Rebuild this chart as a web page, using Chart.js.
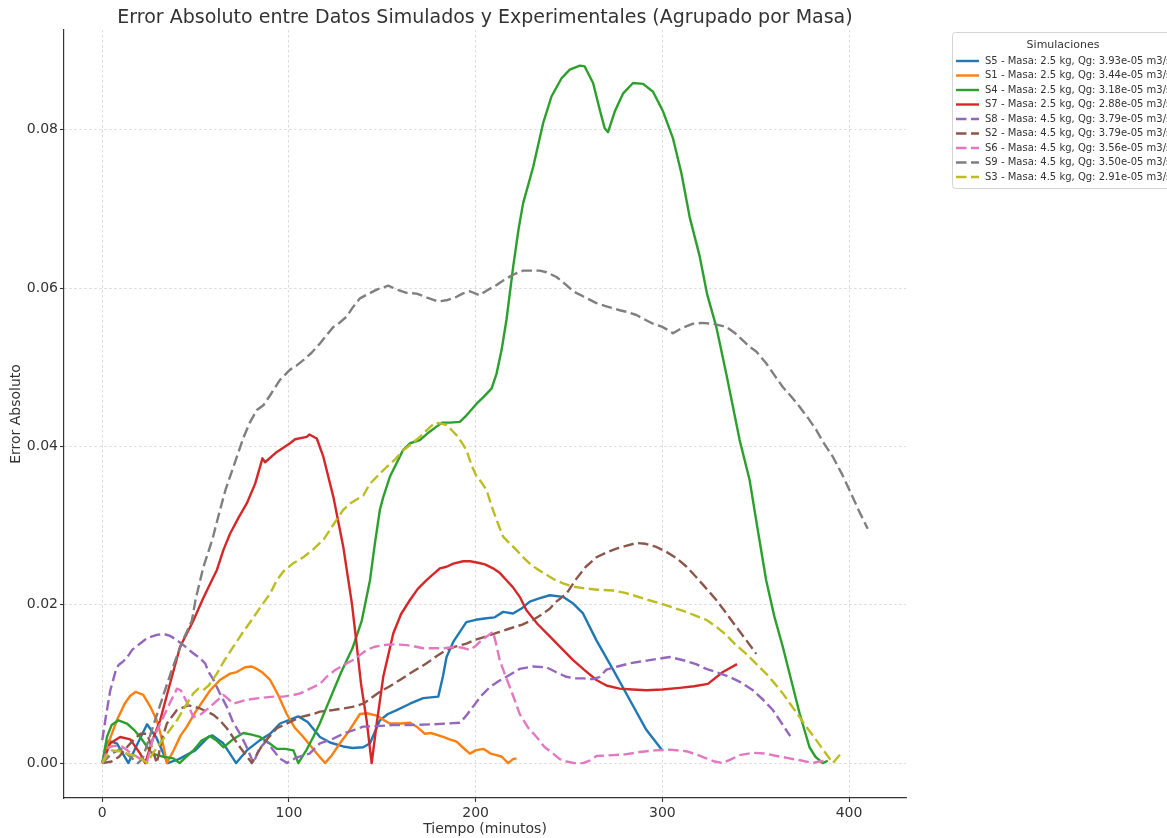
<!DOCTYPE html>
<html>
<head>
<meta charset="utf-8">
<script src="https://cdn.jsdelivr.net/npm/chart.js@4.4.1/dist/chart.umd.min.js"></script>
<style>
  html, body { margin: 0; padding: 0; background: #ffffff; }
  #wrap { width: 1167px; height: 838px; }
</style>
</head>
<body>
<div id="wrap"><canvas id="chart" width="1167" height="838"></canvas></div>
<script>
// Absolute error between simulated and experimental data, grouped by mass.
// Each series: [time in minutes, absolute error]
const s5Points = [[0,0],[3.4,0.0028],[7.8,0.0025],[14,0],[19,0.0025],[24,0.0049],[29,0.0032],[35,0],[41,0.0005],[49.8,0.0016],[56.9,0.0033],[59,0.0035],[64.8,0.0025],[71.7,0],[77.4,0.0016],[84.5,0.0029],[89.9,0.0037],[95.2,0.005],[105,0.0059],[110,0.0052],[116.6,0.0033],[122,0.0026],[129,0.0021],[134,0.0019],[139.8,0.002],[143.4,0.0025],[148.7,0.0054],[153,0.0062],[157.7,0.0067],[164.8,0.0075],[171.9,0.0082],[180,0.0084],[182.5,0.011],[184.4,0.0134],[188,0.0153],[195,0.0178],[200,0.0181],[205.8,0.0183],[210,0.0184],[214.7,0.0191],[220,0.0189],[225,0.0196],[229,0.0204],[234,0.0208],[239.7,0.0212],[246.8,0.021],[252,0.0202],[257.5,0.0189],[264.7,0.0155],[273.6,0.0118],[282.5,0.008],[291.4,0.0042],[300,0.0016]];

const s1Points = [[0,0],[4,0.003],[7.8,0.0054],[12,0.0075],[15,0.0085],[18,0.009],[22,0.0086],[26,0.007],[29.2,0.0054],[32,0.003],[34.6,0],[38,0.0015],[42,0.0035],[45.3,0.0046],[50,0.0065],[57.8,0.0092],[63,0.0105],[68.5,0.0113],[72,0.0115],[76.5,0.0121],[80,0.0122],[82.8,0.0119],[86,0.0114],[89.9,0.0105],[94,0.0087],[98.8,0.0062],[103,0.0045],[107.7,0.0033],[114.9,0.0012],[119.3,0],[123,0.001],[127.3,0.0025],[132,0.004],[138,0.0062],[141.6,0.0063],[147,0.006],[151,0.0054],[154,0.005],[160,0.005],[164.8,0.0051],[168.4,0.0046],[172.8,0.0037],[176,0.0038],[182.6,0.0033],[186,0.003],[189.8,0.0027],[193,0.002],[196.9,0.0012],[200,0.0016],[204,0.0018],[208,0.0012],[211.2,0.001],[214,0.0008],[217.4,0],[220,0.0005],[221.9,0.0006]];

const s4Points = [[0,0],[2.5,0.0033],[5,0.0048],[8.7,0.0054],[13.2,0.005],[17,0.0042],[20.3,0.0033],[26.6,0.0012],[32.8,0.0008],[38.1,0.0006],[41.4,0],[45,0.0008],[48.8,0.0016],[53,0.0028],[57.8,0.0034],[61,0.0029],[64.9,0.002],[70,0.003],[75.6,0.0038],[80,0.0036],[84.5,0.0033],[89,0.0026],[93.5,0.0018],[98,0.0018],[102.4,0.0016],[105,0],[109,0.0015],[113,0.0033],[116.5,0.005],[120.2,0.0071],[128,0.0115],[134,0.0145],[139,0.018],[143.4,0.0231],[146,0.0277],[148.7,0.032],[150.5,0.0336],[154.1,0.0362],[157.7,0.0379],[161,0.0395],[164.8,0.0404],[170.1,0.0408],[175,0.0418],[179,0.0425],[182,0.043],[186.2,0.043],[191.5,0.0431],[195,0.0439],[200.5,0.0454],[204,0.0462],[208.5,0.0473],[211.2,0.0492],[213.9,0.0522],[216.5,0.056],[220.1,0.0627],[223,0.0675],[225.4,0.0707],[230.8,0.0753],[236.1,0.0808],[240.6,0.0842],[246,0.0865],[250.4,0.0876],[255.8,0.0881],[258.4,0.088],[262.9,0.0859],[266.5,0.0825],[269.1,0.0802],[270.9,0.0797],[274.5,0.0823],[279,0.0846],[284.3,0.0859],[289.7,0.0858],[295,0.0848],[300.4,0.0823],[305.7,0.0789],[310.2,0.0745],[314.6,0.069],[320,0.064],[324,0.0592],[328.9,0.0551],[334.2,0.0492],[341.4,0.0408],[346.7,0.0358],[351,0.0296],[355.6,0.0231],[360,0.0185],[364.5,0.0147],[369,0.0105],[373.5,0.0063],[378.8,0.002],[382,0.0008],[385.9,0],[388.6,0.0003]];

const s7Points = [[0,0],[4.3,0.0025],[9.6,0.0033],[15,0.003],[20.3,0.0012],[23,0],[27,0.003],[31,0.0054],[36,0.0098],[41.7,0.0147],[48.8,0.018],[54,0.0208],[58.7,0.0231],[61.4,0.0244],[65,0.027],[68.5,0.029],[73,0.031],[77.4,0.0328],[81.9,0.0353],[85.8,0.0385],[87.2,0.038],[93.5,0.0393],[100.6,0.0404],[103.3,0.0409],[109.5,0.0412],[110.9,0.0415],[114.9,0.041],[118.4,0.0387],[123.8,0.0336],[129.1,0.0273],[133.8,0.02],[136,0.0155],[138.6,0.01],[141.6,0.0054],[144.3,0],[147,0.005],[150.5,0.0109],[155.9,0.0164],[160,0.0188],[164.8,0.0206],[169,0.022],[173.7,0.0231],[180.8,0.0246],[184.4,0.0248],[188,0.0252],[193.3,0.0255],[197,0.0255],[201.3,0.0253],[205,0.0251],[209.3,0.0246],[213,0.024],[216.5,0.0231],[220,0.0222],[223.6,0.021],[227.2,0.0193],[233,0.0176],[239.7,0.016],[246,0.0145],[252.2,0.013],[258,0.0118],[264.7,0.0105],[270,0.0098],[277.1,0.0094],[284,0.0093],[291.4,0.0092],[300,0.0093],[309.3,0.0095],[317,0.0097],[324.4,0.01],[332.4,0.0115],[340,0.0125]];

const s8Points = [[0,0.0029],[2,0.006],[4.3,0.0092],[7,0.0115],[8.7,0.0124],[11,0.0128],[13.2,0.0133],[16,0.0143],[20.3,0.0151],[24,0.0158],[29.2,0.0162],[33,0.0163],[36,0.0161],[39,0.0157],[44,0.0148],[48,0.014],[52,0.0133],[55.1,0.0126],[57,0.0115],[59.6,0.0105],[63,0.0088],[66.7,0.0071],[70,0.0052],[73.8,0.0037],[77,0.0022],[81,0],[84,0.0018],[88,0.0028],[91,0.0018],[95,0.0006],[99,0],[104,0.0007],[111,0.0012],[116.6,0.0025],[123,0.003],[129,0.0037],[135,0.0042],[139.8,0.0046],[148.7,0.0047],[156,0.0048],[164.8,0.0048],[177.3,0.0049],[185,0.005],[191.5,0.0051],[195,0.006],[198.5,0.0071],[203,0.0085],[207.6,0.0096],[212,0.0103],[216.5,0.0109],[223.6,0.0119],[230.8,0.0122],[237.9,0.0121],[243,0.0115],[248.6,0.0109],[253,0.0107],[257.5,0.0107],[262.9,0.0106],[266.5,0.0109],[270,0.0118],[276,0.0122],[282.5,0.0126],[293.2,0.013],[303.9,0.0134],[312.8,0.0129],[318,0.0125],[323.5,0.0119],[330,0.0114],[336,0.0109],[342,0.0102],[348.5,0.0092],[354,0.008],[359.2,0.0067],[364,0.005],[368.5,0.0034]];

const s2Points = [[0,0],[5,0.0002],[9,0.0008],[13.2,0.002],[17,0.003],[20.3,0.0037],[24,0.0037],[26.5,0.002],[29.2,0],[32,0.003],[34.6,0.005],[40,0.0067],[46.2,0.0073],[52.4,0.0069],[59.6,0.0061],[63,0.0054],[66.7,0.0044],[73.8,0.002],[80.1,0],[86.3,0.0025],[93.5,0.0044],[102.4,0.0054],[106,0.0058],[113,0.0062],[116.6,0.0065],[123.8,0.0067],[129,0.0069],[134,0.0071],[139.8,0.0075],[144,0.0082],[148.7,0.009],[154,0.0097],[159.4,0.0105],[166,0.0115],[173.7,0.0126],[179,0.0135],[184.4,0.0143],[189,0.0147],[195.1,0.0151],[200,0.0156],[205.8,0.016],[212,0.0165],[218.3,0.017],[225,0.0175],[230.8,0.0181],[235,0.0187],[239.7,0.0195],[243.2,0.0204],[248.6,0.0214],[254,0.0233],[259,0.0248],[264.7,0.026],[270,0.0266],[275.4,0.0271],[280,0.0274],[286,0.0278],[291,0.0277],[296.8,0.0273],[302,0.0267],[307.5,0.0259],[313,0.0248],[318.1,0.0235],[323,0.0222],[328.9,0.0206],[334,0.019],[339.6,0.0172],[345,0.0155],[350.3,0.0138]];

const s6Points = [[0,0],[3.4,0.002],[7,0.0022],[10.5,0.0021],[15.9,0.0012],[21.2,0.0004],[24,0.0002],[27,0.003],[31.9,0.0054],[36,0.0075],[40,0.0094],[42,0.0092],[45.3,0.0077],[48.8,0.0058],[53,0.0062],[57.8,0.0071],[61,0.0078],[64.9,0.0086],[67,0.0082],[70.2,0.0075],[73,0.0077],[77.4,0.008],[84,0.0082],[91.7,0.0084],[97,0.0084],[102.4,0.0086],[106,0.0088],[111.3,0.0094],[116.6,0.01],[120.2,0.0109],[125,0.0118],[130.9,0.0126],[135,0.0131],[141.6,0.0143],[146,0.0147],[150.5,0.0149],[156,0.015],[163,0.0149],[168,0.0147],[171.9,0.0145],[177,0.0145],[182.6,0.0145],[189.8,0.0147],[194,0.0145],[196.9,0.0143],[200,0.0148],[202.2,0.0153],[206,0.016],[209.3,0.0166],[211,0.015],[212.9,0.013],[215.5,0.0113],[218.3,0.0096],[221,0.0079],[223.6,0.0062],[228,0.0045],[232.6,0.0033],[237,0.002],[241.5,0.0012],[245,0.0005],[248.6,0.0002],[253,0],[257.5,0],[261,0.0003],[264.7,0.0009],[273.6,0.001],[280,0.0011],[287.9,0.0014],[296,0.0016],[303.9,0.0017],[312.8,0.0015],[318,0.0011],[323.5,0.0006],[328,0.0002],[332.4,0],[337,0.0005],[341.4,0.001],[348.5,0.0013],[355,0.0012],[361.2,0.0009],[368,0.0006],[375,0.0003],[380.6,0],[384,0.0002],[387.7,0.0003]];

const s9Points = [[0,0],[5,0.0012],[10,0.0018],[15,0.0008],[19,0],[21.5,0.0005],[26.6,0.0042],[31.9,0.008],[37.3,0.0118],[42.6,0.0152],[48,0.018],[50,0.0207],[54.2,0.0248],[58.9,0.0282],[63.1,0.032],[66,0.0345],[70.2,0.0374],[75.6,0.0411],[79,0.043],[82.8,0.0446],[86.3,0.0452],[90,0.0465],[95.2,0.0484],[100.6,0.0497],[104,0.0502],[107.7,0.0509],[112,0.0518],[116.6,0.053],[120,0.054],[123.8,0.0551],[127,0.0556],[130.9,0.0564],[134,0.0575],[138,0.0587],[142,0.0592],[147,0.0598],[153.2,0.0603],[158,0.0598],[163,0.0594],[168.4,0.0593],[174,0.0588],[180,0.0583],[185,0.0585],[189.8,0.0589],[193,0.0593],[196.9,0.0596],[202.2,0.0591],[206,0.0597],[211.2,0.0604],[215,0.061],[220.1,0.0617],[225.4,0.0622],[229,0.0622],[234.3,0.0622],[238,0.062],[243.3,0.0614],[248,0.0605],[252.2,0.0596],[258,0.0589],[264.7,0.0581],[270,0.0577],[277.1,0.0572],[281,0.057],[286.1,0.0566],[290,0.0561],[295,0.0555],[300,0.0551],[305.7,0.0543],[310,0.0549],[316.4,0.0555],[321,0.0556],[327.1,0.0555],[334.2,0.0551],[339,0.0543],[343.1,0.0534],[346.7,0.0526],[350.3,0.052],[355.6,0.0505],[360,0.049],[364.5,0.0475],[369,0.0463],[373.5,0.045],[378,0.0436],[382.4,0.0421],[386,0.0406],[391.3,0.0387],[396,0.0366],[400.2,0.0345],[405,0.032],[410,0.0296]];

const s3Points = [[0,0],[2.5,0.001],[5.2,0.0016],[9,0.0015],[13,0.0012],[19.4,0.0008],[24,0],[27,0.0012],[31,0.0025],[35,0.0038],[40,0.0054],[44,0.007],[48.8,0.0088],[51.5,0.0094],[54,0.0092],[57,0.0098],[61.4,0.0113],[65,0.0128],[70.2,0.0147],[75,0.0164],[81,0.0184],[85,0.0198],[89.9,0.0214],[93.5,0.0231],[97,0.0242],[102,0.0252],[107.7,0.026],[113,0.027],[118.4,0.0282],[124,0.0302],[129.1,0.032],[132.7,0.0328],[139.8,0.0338],[143.4,0.0353],[148,0.0364],[152.3,0.0374],[157,0.0384],[161.2,0.0395],[166,0.0404],[170.1,0.0412],[174,0.0421],[178.2,0.043],[181,0.0429],[184.4,0.0427],[187,0.0421],[189.8,0.0414],[192.5,0.0405],[195.1,0.0395],[198,0.0375],[200.5,0.0362],[203,0.0355],[205.8,0.0345],[208.5,0.0325],[211.2,0.0307],[214.7,0.0286],[218,0.0278],[221.9,0.0269],[225,0.0261],[229,0.0252],[233,0.0245],[237.9,0.0238],[242,0.0232],[246.8,0.0227],[252,0.0223],[257.5,0.0221],[265,0.0219],[273.6,0.0218],[280,0.0215],[284.3,0.0212],[291,0.0207],[298.6,0.0202],[305,0.0197],[312.8,0.0191],[318,0.0186],[323.5,0.0181],[329,0.0172],[334.2,0.0162],[339,0.015],[344.9,0.0138],[350,0.0126],[355.6,0.0113],[360,0.0101],[364.5,0.0088],[369,0.0073],[373.5,0.0058],[378,0.0043],[382.4,0.0029],[387,0.0014],[391.3,0],[393.5,0.0006],[395.7,0.0012]];

const seriesLabels = [
  'S5 - Masa: 2.5 kg, Qg: 3.93e-05 m3/s',
  'S1 - Masa: 2.5 kg, Qg: 3.44e-05 m3/s',
  'S4 - Masa: 2.5 kg, Qg: 3.18e-05 m3/s',
  'S7 - Masa: 2.5 kg, Qg: 2.88e-05 m3/s',
  'S8 - Masa: 4.5 kg, Qg: 3.79e-05 m3/s',
  'S2 - Masa: 4.5 kg, Qg: 3.79e-05 m3/s',
  'S6 - Masa: 4.5 kg, Qg: 3.56e-05 m3/s',
  'S9 - Masa: 4.5 kg, Qg: 3.50e-05 m3/s',
  'S3 - Masa: 4.5 kg, Qg: 2.91e-05 m3/s'
];
const seriesPoints = [s5Points, s1Points, s4Points, s7Points, s8Points, s2Points, s6Points, s9Points, s3Points];
const seriesMass = [2.5, 2.5, 2.5, 2.5, 4.5, 4.5, 4.5, 4.5, 4.5];

const xTickValues = [0, 100, 200, 300, 400];
const yTickValues = [0, 0.02, 0.04, 0.06, 0.08];

const chartTitle = 'Error Absoluto entre Datos Simulados y Experimentales (Agrupado por Masa)';
const xAxisTitle = 'Tiempo (minutos)';
const yAxisTitle = 'Error Absoluto';
const legendTitle = 'Simulaciones';

const palette = ['#1f77b4', '#ff7f0e', '#2ca02c', '#d62728', '#9467bd', '#8c564b', '#e377c2', '#7f7f7f', '#bcbd22'];
const FONT = "'DejaVu Sans', sans-serif";
const TEXT = '#333333';
const DASH = [10.5, 4.5];
const LINE_W = 2.4;

const datasets = seriesPoints.map((pts, i) => ({
  label: seriesLabels[i],
  data: pts.map(p => ({ x: p[0], y: p[1] })),
  borderColor: palette[i],
  backgroundColor: palette[i],
  borderWidth: LINE_W,
  borderDash: seriesMass[i] > 3 ? DASH : [],
  borderJoinStyle: 'round',
  borderCapStyle: 'butt',
  pointRadius: 0,
  tension: 0,
  fill: false,
  order: seriesPoints.length - i
}));

// Title above the plot and the boxed legend to the right of it
const decorations = {
  id: 'decorations',
  afterDraw(chart) {
    const ctx = chart.ctx;
    const area = chart.chartArea;
    ctx.save();
    ctx.fillStyle = TEXT;
    ctx.font = '19px ' + FONT;
    ctx.textAlign = 'center';
    ctx.textBaseline = 'middle';
    ctx.fillText(chartTitle, (area.left + area.right) / 2, 18);

    const bx = 952.5, by = 32.5, bw = 236, bh = 156, r = 3;
    ctx.beginPath();
    ctx.moveTo(bx + r, by);
    ctx.lineTo(bx + bw - r, by);
    ctx.arcTo(bx + bw, by, bx + bw, by + r, r);
    ctx.lineTo(bx + bw, by + bh - r);
    ctx.arcTo(bx + bw, by + bh, bx + bw - r, by + bh, r);
    ctx.lineTo(bx + r, by + bh);
    ctx.arcTo(bx, by + bh, bx, by + bh - r, r);
    ctx.lineTo(bx, by + r);
    ctx.arcTo(bx, by, bx + r, by, r);
    ctx.closePath();
    ctx.fillStyle = 'rgba(255,255,255,0.85)';
    ctx.fill();
    ctx.strokeStyle = '#d4d4d4';
    ctx.lineWidth = 1;
    ctx.stroke();

    ctx.fillStyle = TEXT;
    ctx.font = '11px ' + FONT;
    ctx.fillText(legendTitle, 1063, 45);

    ctx.font = '10px ' + FONT;
    ctx.textAlign = 'left';
    chart.data.datasets.forEach((ds, i) => {
      const y = 61 + i * 14.5;
      ctx.beginPath();
      ctx.setLineDash(ds.borderDash);
      ctx.strokeStyle = ds.borderColor;
      ctx.lineWidth = LINE_W;
      ctx.moveTo(956, y);
      ctx.lineTo(979, y);
      ctx.stroke();
      ctx.setLineDash([]);
      ctx.fillStyle = TEXT;
      ctx.fillText(ds.label, 985, y);
    });
    ctx.restore();
  }
};

new Chart(document.getElementById('chart'), {
  type: 'line',
  data: { datasets },
  options: {
    responsive: false,
    devicePixelRatio: 1,
    animation: false,
    layout: { padding: { left: 0, top: 30, right: 261, bottom: 0 } },
    plugins: { legend: { display: false }, tooltip: { enabled: false }, title: { display: false } },
    scales: {
      x: {
        type: 'linear',
        min: -20.5,
        max: 430.5,
        afterBuildTicks: s => { s.ticks = xTickValues.map(v => ({ value: v })); },
        afterFit: s => { s.height = 40; },
        ticks: { font: { family: FONT, size: 14 }, color: TEXT, padding: 3, maxRotation: 0, callback: v => String(v) },
        grid: { color: 'rgba(190,190,190,0.7)', lineWidth: 0.8, tickLength: 4, tickColor: TEXT, tickWidth: 1.1, tickBorderDash: [] },
        border: { display: true, color: TEXT, width: 1.2, dash: [2.5, 2.5] },
        title: { display: true, text: xAxisTitle, font: { family: FONT, size: 14 }, color: TEXT, padding: { top: 0, bottom: 0 } }
      },
      y: {
        type: 'linear',
        min: -0.00441,
        max: 0.0926,
        afterBuildTicks: s => { s.ticks = yTickValues.map(v => ({ value: v })); },
        afterFit: s => { s.width = 64; },
        ticks: { font: { family: FONT, size: 14 }, color: TEXT, padding: 2, callback: v => Number(v).toFixed(2) },
        grid: { color: 'rgba(190,190,190,0.7)', lineWidth: 0.8, tickLength: 4, tickColor: TEXT, tickWidth: 1.1, tickBorderDash: [] },
        border: { display: true, color: TEXT, width: 1.2, dash: [2.5, 2.5] },
        title: { display: true, text: yAxisTitle, font: { family: FONT, size: 14 }, color: TEXT, padding: { top: 8, bottom: 0 } }
      }
    }
  },
  plugins: [decorations]
});
</script>
</body>
</html>
